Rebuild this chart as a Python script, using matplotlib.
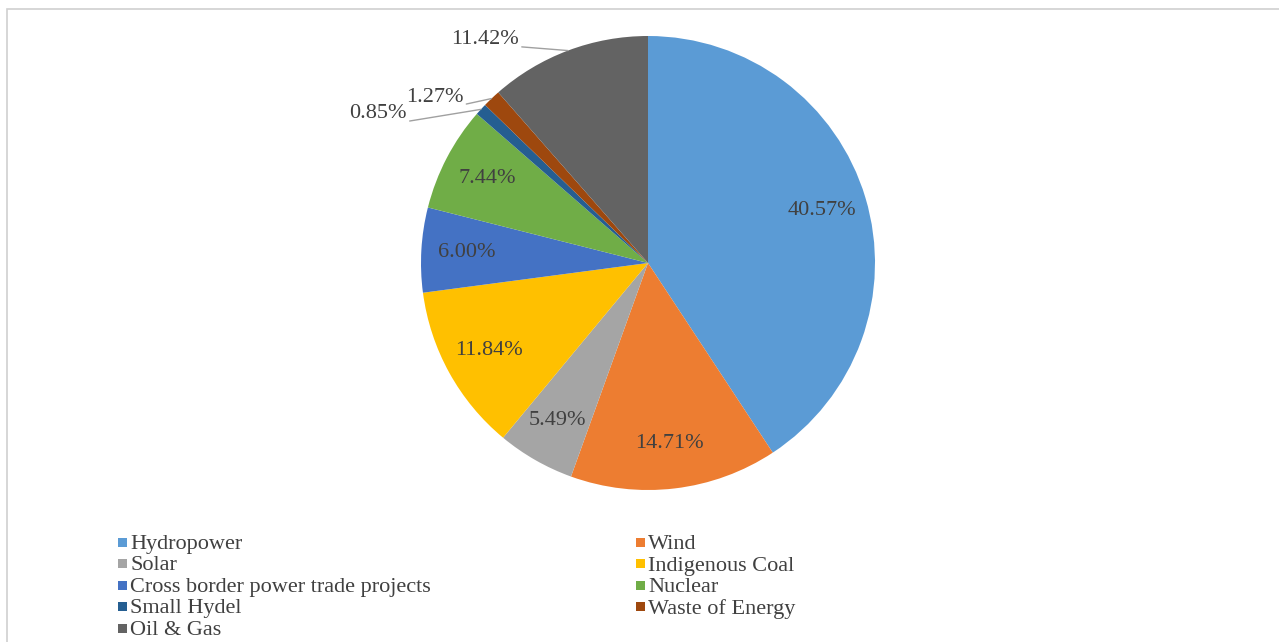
import numpy as np
import matplotlib
matplotlib.use("Agg")
import matplotlib.pyplot as plt
from matplotlib.patches import Rectangle

# 数据
sources = ['Hydropower', 'Wind', 'Solar', 'Indigenous Coal',
           'Cross border power trade projects', 'Nuclear', 'Small Hydel',
           'Waste of Energy', 'Oil & Gas']
shares = [40.57, 14.71, 5.49, 11.84, 6.00, 7.44, 0.85, 1.27, 11.42]
colors = ['#5B9BD5', '#ED7D31', '#A5A5A5', '#FFC000', '#4472C4',
          '#70AD47', '#255E91', '#9E480E', '#636363']

plt.rcParams['font.family'] = ['Liberation Serif', 'DejaVu Serif']
text_color = '#404040'

W, H = 1279, 642
fig = plt.figure(figsize=(W / 100, H / 100), dpi=100)

# 外框
fig.patches.append(Rectangle((7 / W, -0.1), 1.2, 1 - 9 / H + 0.1,
                             transform=fig.transFigure, fill=False,
                             edgecolor='#d0d0d0', linewidth=1.2))

cx, cy, R = 648, 263, 227
ax = fig.add_axes([(cx - R) / W, (H - cy - R) / H, 2 * R / W, 2 * R / H])
wedges, _ = ax.pie(shares, colors=colors, startangle=90, counterclock=False,
                   radius=1, wedgeprops=dict(linewidth=0))
ax.set_xlim(-1, 1)
ax.set_ylim(-1, 1)
ax.set_aspect('equal')
ax.axis('off')

# 标签: 大扇区放在内部, 小扇区用引线放在外部
outside = {8: (-49, 2), 7: (-28, -8), 6: (-74, -14)}
for i, w in enumerate(wedges):
    mid = np.deg2rad((w.theta1 + w.theta2) / 2)
    label = f'{shares[i]:.2f}%'
    if i in outside:
        ex, ey = np.cos(mid), np.sin(mid)
        ax.annotate(label, xy=(ex, ey), xytext=outside[i],
                    textcoords='offset pixels', ha='right', va='bottom',
                    fontsize=16, color=text_color, annotation_clip=False,
                    arrowprops=dict(arrowstyle='-', color='#a0a0a0', lw=1,
                                    shrinkA=0, shrinkB=0, relpos=(1, 0.1)))
    else:
        r = 0.8
        ax.text(r * np.cos(mid), r * np.sin(mid), label, ha='center',
                va='center', fontsize=16, color=text_color)

# 图例: 两列, 按行排列, 固定行距
col_x = [118, 636]
row_y0, row_step, box = 542, 21.5, 9
for i, name in enumerate(sources):
    x = col_x[i % 2]
    y = row_y0 + row_step * (i // 2)
    fig.patches.append(Rectangle((x / W, 1 - (y + box / 2) / H), box / W, box / H,
                                 transform=fig.transFigure,
                                 facecolor=colors[i], edgecolor='none'))
    fig.text((x + box + 3) / W, 1 - y / H, name, ha='left',
             va='center_baseline', fontsize=16, color=text_color)

fig.savefig('out.png', dpi=100)
